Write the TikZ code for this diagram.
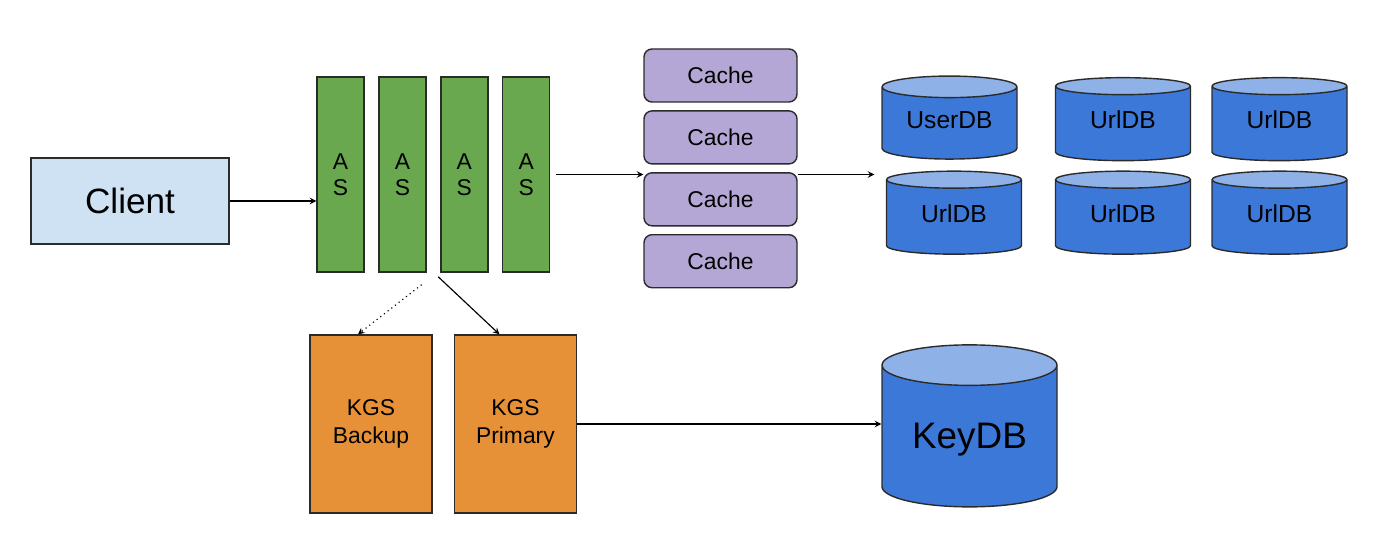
\documentclass[tikz,border=0pt]{standalone}
\usepackage{fontspec}
\setmainfont{Liberation Sans}
\usepackage{tikz}
\usetikzlibrary{shapes.geometric, arrows, positioning}

\definecolor{clientblue}{HTML}{CFE2F3}
\definecolor{asgreen}{HTML}{6AA84F}
\definecolor{cachepurple}{HTML}{B4A7D6}
\definecolor{kgsorange}{HTML}{E69138}
\definecolor{dbblue}{HTML}{3C78D8}
\definecolor{dbtop}{HTML}{8EB1E8}
\definecolor{edge}{HTML}{2B2B2B}

\begin{document}
\begin{tikzpicture}[node distance=0.27cm]
\tikzstyle{client} = [rectangle, minimum width=3.96cm, minimum height=1.72cm, text centered, draw=edge, line width=0.8pt, fill=clientblue, font=\fontsize{20}{24}\selectfont]
\tikzstyle{as} = [rectangle, minimum width=0.94cm, minimum height=3.9cm, align=center, draw=edge, line width=0.8pt, fill=asgreen, font=\fontsize{13}{15}\selectfont]
\tikzstyle{cache} = [rectangle, rounded corners=0.16cm, minimum width=3.06cm, minimum height=1.06cm, text centered, draw=edge, line width=0.8pt, fill=cachepurple, font=\fontsize{13}{15}\selectfont]
\tikzstyle{kgs} = [rectangle, minimum width=2.44cm, minimum height=3.56cm, align=center, draw=edge, line width=0.8pt, fill=kgsorange, font=\fontsize{13}{16}\selectfont]
\tikzstyle{cyl} = [cylinder, shape border rotate=90, draw=edge, line width=0.8pt, cylinder uses custom fill, cylinder body fill=dbblue, cylinder end fill=dbtop]
\tikzstyle{db} = [cyl, aspect=0.22, minimum width=2.7cm, minimum height=1.66cm, text depth=0.23cm, font=\fontsize{14}{17}\selectfont]
\tikzstyle{keydb} = [cyl, aspect=0.32, minimum width=3.5cm, minimum height=3.24cm, font=\fontsize{21}{25}\selectfont]

\tikzstyle{arrow} = [line width=0.65pt,->,>=stealth]

\useasboundingbox (0,0) rectangle (28,11);

\node (client) [client] at (2.6,6.98) {Client};
\node (as1) [as] at (6.81,7.51) {A\\S};
\node (as2) [as,right=of as1] {A\\S};
\node (as3) [as,right=of as2] {A\\S};
\node (as4) [as,right=of as3] {A\\S};

\node (c1) [cache] at (14.41,9.49) {Cache};
\node (c2) [cache,below=0.15cm of c1] {Cache};
\node (c3) [cache,below=0.15cm of c2] {Cache};
\node (c4) [cache,below=0.15cm of c3] {Cache};

\node (userdb) [db] at (18.99,8.49) {UserDB};
\node (url1) [db] at (19.08,6.62) {UrlDB};
\node (url2) [db] at (22.46,8.49) {UrlDB};
\node (url3) [db] at (25.59,8.49) {UrlDB};
\node (url4) [db] at (22.46,6.62) {UrlDB};
\node (url5) [db] at (25.59,6.62) {UrlDB};

\node (kgsb) [kgs] at (7.42,2.52) {KGS\\Backup};
\node (kgsp) [kgs,right=0.42cm of kgsb] {KGS\\Primary};
\node (keydb) [keydb] at (19.39,2.20) {KeyDB};

\draw [arrow] (client) -- (client -| as1.west);
\draw [arrow,shorten <=0.12cm] (as4.east) -- (as4.east -| c3.west);
\draw [arrow,shorten >=0.14cm] (as4.east -| c3.east) -- (as4.east -| userdb.west);

\draw [arrow,dotted] ([xshift=-0.1cm,yshift=-0.24cm]as2.south east) -- ([xshift=-0.26cm]kgsb.north);
\draw [arrow] ([xshift=-0.04cm,yshift=-0.08cm]as3.south west) -- ([xshift=-0.32cm]kgsp.north);
\draw [arrow] (kgsp.east) -- (kgsp.east -| keydb.west);

\end{tikzpicture}
\end{document}
